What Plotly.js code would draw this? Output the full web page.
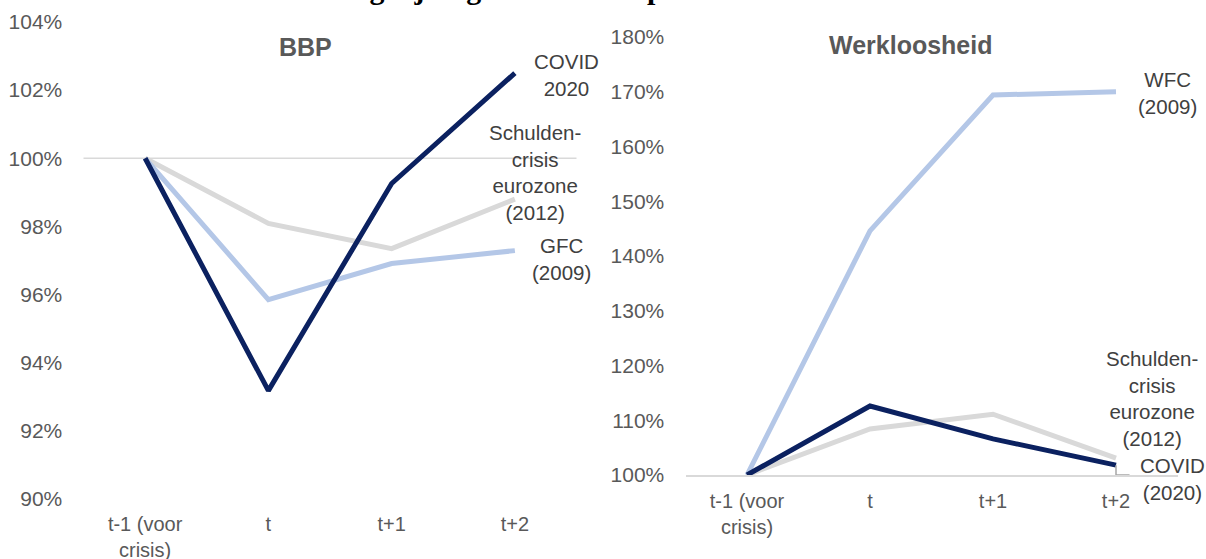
<!DOCTYPE html>
<html>
<head>
<meta charset="utf-8">
<script src="https://cdn.plot.ly/plotly-3.0.1.min.js"></script>
<style>html,body{margin:0;padding:0;background:#fff;}#chart{width:1206px;height:559px;}</style>
</head>
<body>
<div id="chart"></div>
<script>
// ---- data ----
const categories = ['t-1 (voor<br>crisis)', 't', 't+1', 't+2'];
const bbpCovid = [100, 93.18, 99.26, 102.5];
const bbpSchulden = [100, 98.09, 97.35, 98.8];
const bbpGfc = [100, 95.85, 96.91, 97.29];
const wklWfc = [100, 144.6, 169.4, 170.0];
const wklCovid = [100, 112.6, 106.6, 101.8];
const wklSchulden = [100, 108.4, 111.1, 103.1];
const bbpTicks = [90, 92, 94, 96, 98, 100, 102, 104];
const wklTicks = [100, 110, 120, 130, 140, 150, 160, 170, 180];

const W = 1206, H = 559;
const px = v => v / W, py = v => 1 - v / H;
const xi = categories.map((_, i) => i);

const NAVY = '#0b2160', LBLUE = '#b4c7e7', GRAY = '#d9d9d9';
const TXT = '#595959', LBL = '#404040';
const FONT = 'Liberation Sans, Arial, sans-serif';

function tr(y, color, xa, ya) {
  return {x: xi, y: y, type: 'scatter', mode: 'lines', xaxis: xa, yaxis: ya,
    line: {color: color, width: 5}, hoverinfo: 'skip', cliponaxis: false};
}

const data = [
  tr(bbpSchulden, GRAY, 'x', 'y'),
  tr(bbpGfc, LBLUE, 'x', 'y'),
  tr(bbpCovid, NAVY, 'x', 'y'),
  tr(wklWfc, LBLUE, 'x2', 'y2'),
  tr(wklSchulden, GRAY, 'x2', 'y2'),
  tr(wklCovid, NAVY, 'x2', 'y2')
];

const tickFont = {family: FONT, size: 21, color: TXT};
const xCommon = {
  tickmode: 'array', tickvals: xi, ticktext: categories, range: [-0.5, 3.5],
  showgrid: false, zeroline: false, ticks: 'outside', ticklen: 7,
  tickcolor: 'rgba(0,0,0,0)', tickfont: {family: FONT, size: 20, color: TXT}, fixedrange: true
};
const yCommon = {
  tickmode: 'array', showgrid: false, zeroline: false, ticks: 'outside', ticklen: 16,
  tickcolor: 'rgba(0,0,0,0)', tickfont: tickFont, fixedrange: true
};

const lblFont = {family: FONT, size: 20.5, color: LBL};
function lbl(text, x, y, xa, ya) {
  return {text: text, x: x, y: y, xref: xa, yref: ya, showarrow: false,
    xanchor: 'center', yanchor: 'middle', font: lblFont, align: 'center'};
}
const titleFont = {family: 'Liberation Serif, Times New Roman, serif', size: 30, color: '#000', weight: 'bold'};
const titleText = 'Vergelijking tussen de impact van crises';

const layout = {
  width: W, height: H,
  margin: {l: 0, r: 0, t: 0, b: 0},
  paper_bgcolor: '#fff', plot_bgcolor: 'rgba(0,0,0,0)',
  showlegend: false,
  xaxis: Object.assign({}, xCommon, {domain: [px(83.5), px(576.5)], anchor: 'y'}),
  yaxis: Object.assign({}, yCommon, {domain: [py(499), py(22)], range: [90, 104],
    tickvals: bbpTicks, ticktext: bbpTicks.map(v => v + '%'), anchor: 'x'}),
  xaxis2: Object.assign({}, xCommon, {domain: [px(685.5), px(1177.5)], anchor: 'y2',
    showline: true, linecolor: GRAY, linewidth: 1.5}),
  yaxis2: Object.assign({}, yCommon, {domain: [py(475), py(37)], range: [100, 180],
    tickvals: wklTicks, ticktext: wklTicks.map(v => v + '%'), anchor: 'x2'}),
  shapes: [
    {type: 'line', xref: 'x domain', yref: 'y', x0: 0, x1: 1, y0: 100, y1: 100,
     line: {color: GRAY, width: 1.5}, layer: 'below'},
    {type: 'path', xref: 'x2', yref: 'y2',
     path: 'M ' + xi[3] + ',' + wklCovid[3] + ' L ' + xi[3] + ',' + wklTicks[0] +
           ' L ' + (xi[3] + 0.11) + ',' + wklTicks[0],
     line: {color: '#a6a6a6', width: 1.5}, layer: 'above'}
  ],
  annotations: [
    {text: titleText, xref: 'paper', yref: 'paper',
     x: px(322), y: 1, xanchor: 'left', yanchor: 'bottom', yshift: -7, showarrow: false,
     font: titleFont},
    {text: '<b>BBP</b>', xref: 'paper', yref: 'paper', x: px(305), y: py(47),
     xanchor: 'center', yanchor: 'middle', showarrow: false,
     font: {family: FONT, size: 25, color: TXT}},
    {text: '<b>Werkloosheid</b>', xref: 'paper', yref: 'paper', x: px(911), y: py(45),
     xanchor: 'center', yanchor: 'middle', showarrow: false,
     font: {family: FONT, size: 25, color: TXT}},
    lbl('COVID<br>2020', 3.42, 102.44, 'x', 'y'),
    lbl('Schulden-<br>crisis<br>eurozone<br>(2012)', 3.16, 99.57, 'x', 'y'),
    lbl('GFC<br>(2009)', 3.38, 97.03, 'x', 'y'),
    lbl('WFC<br>(2009)', 3.42, 169.8, 'x2', 'y2'),
    lbl('Schulden-<br>crisis<br>eurozone<br>(2012)', 3.29, 113.9, 'x2', 'y2'),
    {text: 'COVID<br>(2020)', x: px(1172), y: py(479), xref: 'paper', yref: 'paper',
     showarrow: false, xanchor: 'center', yanchor: 'middle', font: lblFont, align: 'center'}
  ]
};

Plotly.newPlot('chart', data, layout, {displayModeBar: false, staticPlot: true});
</script>
</body>
</html>
